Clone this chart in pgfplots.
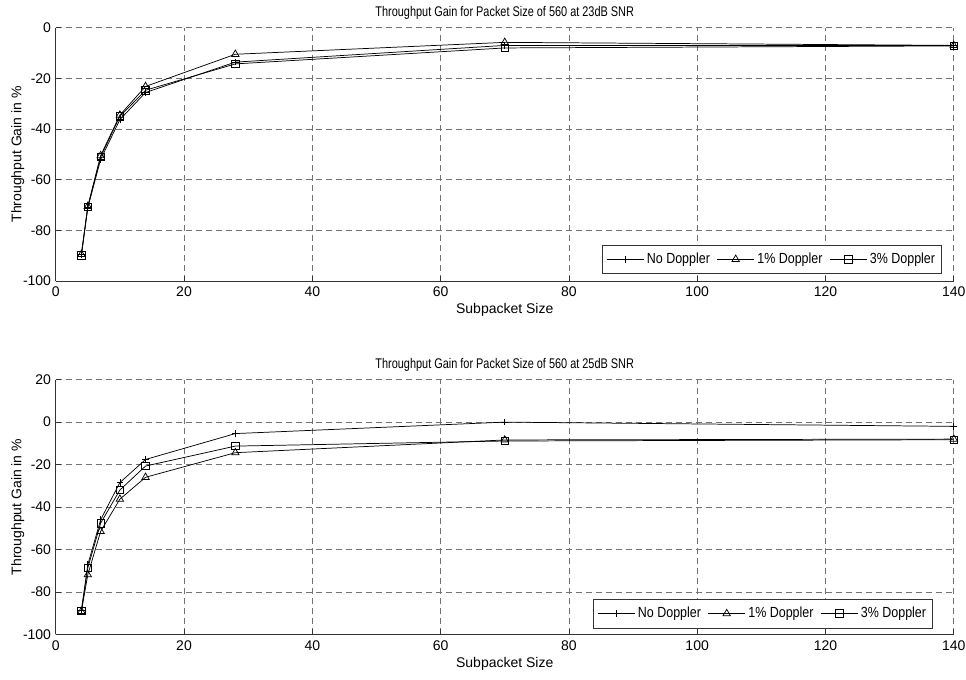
\documentclass[border=0pt]{standalone}
\usepackage{pgfplots}
\pgfplotsset{compat=1.18}
\usepackage{fontspec}
\usepackage{graphicx}
\setmainfont{Liberation Sans}
\begin{document}
\begin{tikzpicture}
\useasboundingbox (-41.8pt,-298.5pt) rectangle (682.7pt,210.75pt);
\pgfplotsset{
  myax/.style={
    scale only axis, width=673.5pt, height=190pt,
    xmin=0, xmax=140,
    xtick={0,20,...,140},
    axis x line*=bottom, axis y line*=left,
    axis line style={black!80, line width=0.5pt},
    tick style={black!80, line width=0.5pt},
    tick align=inside, major tick length=4pt,
    xmajorgrids, ymajorgrids,
    major grid style={black!55, line width=0.45pt, dash pattern=on 4.5pt off 3pt},
    /pgf/number format/assume math mode=true,
    ticklabel style={font=\fontsize{10.5}{12}\selectfont},
    xticklabel style={yshift=-1pt},
    label style={font=\fontsize{10.5}{12}\selectfont},
    xlabel={Subpacket Size},
    xlabel style={at={(axis description cs:0.5,0)}, anchor=center, yshift=-22pt},
    ylabel={Throughput Gain in \%},
    ylabel style={at={(axis description cs:0,0.5)}, anchor=center, yshift=28.5pt},
    title style={font=\fontsize{10.5}{12}\selectfont, at={(axis description cs:0.5,1)}, anchor=south, yshift=-3pt},
    legend columns=3,
    legend style={font=\fontsize{11}{13}\selectfont, draw=black!80, line width=0.5pt,
      anchor=south east, inner xsep=3pt, inner ysep=4pt,
      /tikz/every even column/.append style={column sep=3pt}},
    legend cell align=left,
    every axis plot/.append style={black, line width=0.55pt},
  },
  pn/.style={mark=+, mark size=2.5pt, mark options={solid}},
  pt/.style={mark=triangle, mark size=3.2pt, mark options={solid, fill=none}},
  ps/.style={mark=square, mark size=2.8pt, mark options={solid, fill=none}},
  legend image code/.code={\draw[mark repeat=2, mark phase=2, #1] plot coordinates {(0pt,0pt) (14pt,0pt) (28pt,0pt)};},
}
\begin{axis}[myax, at={(0,0)}, anchor=south west,
  ymin=-100, ymax=0, ytick={-100,-80,...,0},
  title={\scalebox{0.78}[1]{Throughput Gain for Packet Size of 560 at 23dB SNR}},
  legend style={at={(axis description cs:0.987,0.028)}}]
\addplot[pn] coordinates {(4,-89.5) (5,-71) (7,-52) (10,-36.3) (14,-25.6) (28,-13.6) (70,-7) (140,-7)};
\addlegendentry{\scalebox{0.85}[1]{No Doppler}}
\addplot[pt] coordinates {(4,-89.5) (5,-70.5) (7,-50.5) (10,-34.5) (14,-23.2) (28,-10.5) (70,-5.8) (140,-7)};
\addlegendentry{\scalebox{0.85}[1]{1\% Doppler}}
\addplot[ps] coordinates {(4,-89.8) (5,-70.8) (7,-51) (10,-35) (14,-24.7) (28,-14.3) (70,-8) (140,-7.2)};
\addlegendentry{\scalebox{0.85}[1]{3\% Doppler}}
\end{axis}
\begin{axis}[myax, at={(0,-265pt)}, anchor=south west, height=191pt,
  ymin=-100, ymax=20, ytick={-100,-80,...,20},
  title={\scalebox{0.78}[1]{Throughput Gain for Packet Size of 560 at 25dB SNR}},
  legend style={at={(axis description cs:0.977,0.024)}}]
\addplot[pn] coordinates {(4,-88.6) (5,-67.2) (7,-46) (10,-28.5) (14,-17.6) (28,-5.4) (70,0) (140,-2)};
\addlegendentry{\scalebox{0.85}[1]{No Doppler}}
\addplot[pt] coordinates {(4,-89.2) (5,-71.9) (7,-51.5) (10,-36.3) (14,-26) (28,-14.4) (70,-8.4) (140,-8)};
\addlegendentry{\scalebox{0.85}[1]{1\% Doppler}}
\addplot[ps] coordinates {(4,-89) (5,-68.7) (7,-47.6) (10,-32) (14,-20.7) (28,-11.3) (70,-8.9) (140,-8.3)};
\addlegendentry{\scalebox{0.85}[1]{3\% Doppler}}
\end{axis}
\end{tikzpicture}
\end{document}
